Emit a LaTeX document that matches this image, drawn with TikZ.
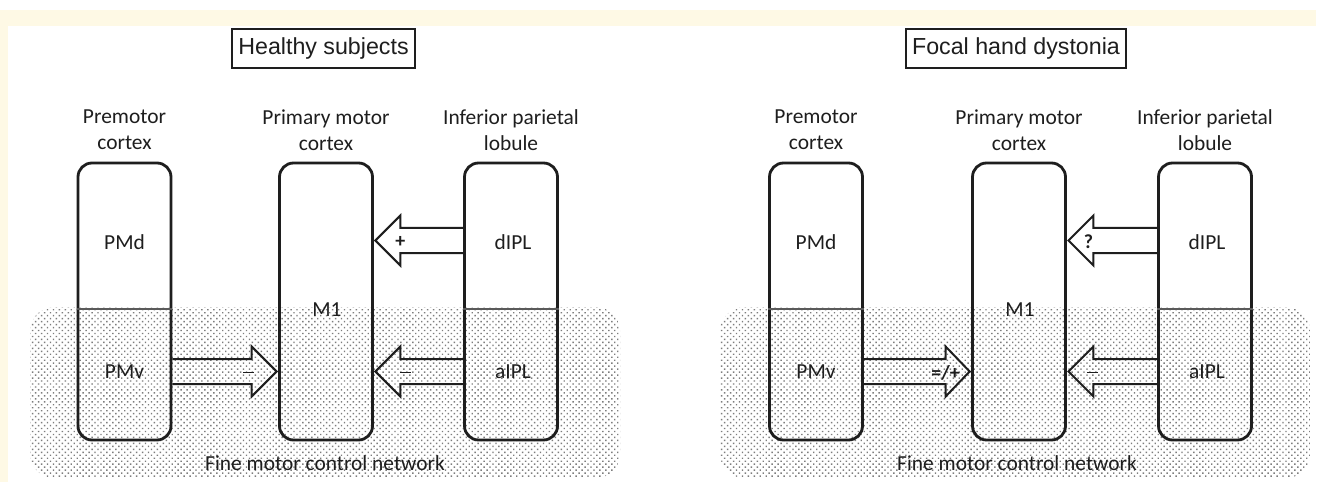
\documentclass[tikz,border=0pt]{standalone}
\usepackage{fontspec}
\setmainfont{Carlito}
\newfontfamily\arialfont{Liberation Sans}
\usetikzlibrary{patterns.meta,calc}
\definecolor{cream}{RGB}{254,249,229}
\definecolor{ink}{RGB}{30,30,30}
\definecolor{dotgray}{RGB}{125,125,125}
\definecolor{divgray}{RGB}{90,90,90}
\newcommand\barrow[3]{%
  \draw[arr] ($(#1)+(0,-12.5)$) -- ($(#2)+(#3,-12.5)$) -- ($(#2)+(#3,-25)$) -- (#2)
    -- ($(#2)+(#3,25)$) -- ($(#2)+(#3,12.5)$) -- ($(#1)+(0,12.5)$);}
\newcommand\minussign{\rule{11bp}{1.8bp}}
\begin{document}
\begin{tikzpicture}[x=1bp,y=-1bp,
  region/.style={pattern={Dots[radius=1bp,distance=4.2bp,angle=45]},pattern color=dotgray,rounded corners=24bp},
  box/.style={draw=ink,line width=2.8bp,rounded corners=14bp,minimum width=93bp,minimum height=277bp,inner sep=0pt},
  divider/.style={draw=divgray,line width=1.2bp},
  arr/.style={draw=ink,line width=2bp,line join=miter},
  lbl/.style={text=ink,font=\fontsize{21.5}{26}\selectfont,inner sep=0pt},
  head/.style={text=ink,font=\fontsize{21.5}{26}\selectfont,align=center,inner sep=0pt},
  sign/.style={text=ink,font=\fontsize{20}{24}\selectfont\bfseries,inner sep=0pt},
  title/.style={draw=ink,line width=1.8bp,text=ink,font=\arialfont\fontsize{23.3}{28}\selectfont,inner xsep=6bp,minimum height=39bp,inner ysep=0pt}]
\useasboundingbox (0,0) rectangle (1326,482);
\fill[white] (0,0) rectangle (1326,482);
\fill[cream] (0,10) rectangle (1316,26);
\fill[cream] (0,10) rectangle (8,482);
% dotted network regions
\fill[region] (30,307) rectangle (620,478);
\fill[region] (720,307) rectangle (1310,478);
\coordinate (div) at (0,309);
% ---------------- left panel ----------------
\node[title] (t1) at (323.5,48.5) {Healthy subjects};
\node[box] (PM) at (124.5,301.5) {};
\node[box] (M1) at (326,301.5) {};
\node[box] (IPL) at (511,301.5) {};
\draw[divider] (PM.west |- div) -- (PM.east |- div);
\draw[divider] (IPL.west |- div) -- (IPL.east |- div);
\node[head] (h1) at (124.5,130) {Premotor\\cortex};
\node[head] (h2) at (326,130) {Primary motor\\cortex};
\node[head] (h3) at (511,130) {Inferior parietal\\lobule};
\node[lbl] (PMd) at (124.5,242) {PMd};
\node[lbl] (PMv) at (124.5,372) {PMv};
\node[lbl] (M1l) at (327,310) {M1};
\node[lbl] (dIPL) at (513,242) {dIPL};
\node[lbl] (aIPL) at (513,372) {aIPL};
\coordinate (s1) at (PM.east |- 0,371.5);
\coordinate (e1) at ($(M1.west |- 0,371.5)+(-1.5,0)$);
\barrow{s1}{e1}{-25}
\coordinate (s2) at (IPL.west |- 0,371.5);
\coordinate (e2) at ($(M1.east |- 0,371.5)+(1.5,0)$);
\barrow{s2}{e2}{25}
\coordinate (s3) at (IPL.west |- 0,240.5);
\coordinate (e3) at ($(M1.east |- 0,240.5)+(1.5,0)$);
\barrow{s3}{e3}{25}
\node[sign] (g1) at ($(e1)+(-28,1)$) {\minussign};
\node[sign] (g2) at ($(e2)+(30,1)$) {\minussign};
\node[sign] (g3) at ($(e3)+(25,1)$) {+};
\node[lbl] (f1) at (325,463) {Fine motor control network};
% ---------------- right panel ----------------
\node[title] (t2) at (1016,48.5) {Focal hand dystonia};
\node[box] (PMr) at (816,301.5) {};
\node[box] (M1r) at (1019,301.5) {};
\node[box] (IPLr) at (1205,301.5) {};
\draw[divider] (PMr.west |- div) -- (PMr.east |- div);
\draw[divider] (IPLr.west |- div) -- (IPLr.east |- div);
\node[head] (h4) at (816,130) {Premotor\\cortex};
\node[head] (h5) at (1019,130) {Primary motor\\cortex};
\node[head] (h6) at (1205,130) {Inferior parietal\\lobule};
\node[lbl] (PMdr) at (816,242) {PMd};
\node[lbl] (PMvr) at (816,372) {PMv};
\node[lbl] (M1lr) at (1020,310) {M1};
\node[lbl] (dIPLr) at (1207,242) {dIPL};
\node[lbl] (aIPLr) at (1207,372) {aIPL};
\coordinate (s4) at (PMr.east |- 0,371.5);
\coordinate (e4) at ($(M1r.west |- 0,371.5)+(-1.5,0)$);
\barrow{s4}{e4}{-24}
\coordinate (s5) at (IPLr.west |- 0,371.5);
\coordinate (e5) at ($(M1r.east |- 0,371.5)+(1.5,0)$);
\barrow{s5}{e5}{25}
\coordinate (s6) at (IPLr.west |- 0,240.5);
\coordinate (e6) at ($(M1r.east |- 0,240.5)+(1.5,0)$);
\barrow{s6}{e6}{25}
\node[sign] (g4) at ($(e4)+(-24,1)$) {=/+};
\node[sign] (g5) at ($(e5)+(24,1)$) {\minussign};
\node[sign] (g6) at ($(e6)+(20,1)$) {?};
\node[lbl] (f2) at (1017,463) {Fine motor control network};
\end{tikzpicture}
\end{document}
